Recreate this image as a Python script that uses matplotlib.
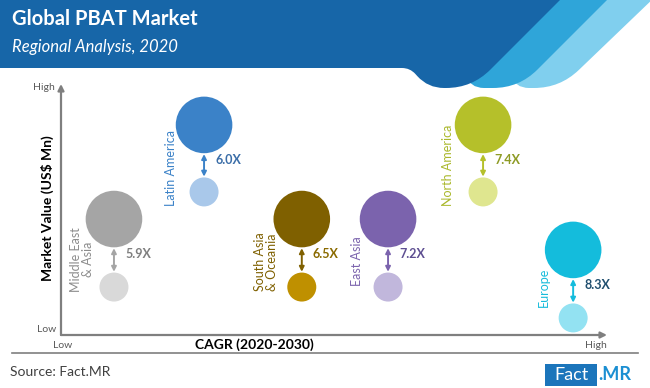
import numpy as np
import matplotlib
matplotlib.use("Agg")
import matplotlib.pyplot as plt
from matplotlib.path import Path
from matplotlib.patches import PathPatch, Rectangle

plt.rcParams['font.family'] = ['Lato', 'DejaVu Sans']

# ---------------- data ----------------
regions = ["Middle East\n& Asia", "Latin America", "South Asia\n& Oceania",
           "East Asia", "North America", "Europe"]
cagr_score = [9.7, 26.2, 44.1, 59.9, 77.3, 93.8]          # relative CAGR position (Low→High)
value_2030 = [46.2, 83.7, 46.2, 46.2, 83.7, 33.9]         # relative market value, 2030 (big bubble)
value_2020 = [19.1, 57.0, 19.1, 19.1, 57.0, 6.8]          # relative market value, 2020 (small bubble)
multiplier = ["5.9X", "6.0X", "6.5X", "7.2X", "7.4X", "8.3X"]

# ---------------- styles ----------------
big_col = ["#a5a5a5", "#3b82c8", "#7f6000", "#7b63ad", "#b5c02a", "#14bcdc"]
small_col = ["#d9d9d9", "#a9c8ea", "#bf9000", "#c1b7dc", "#dfe68f", "#93e2f2"]
lab_col = ["#8c8c8c", "#3b82c8", "#7f6000", "#7b63ad", "#aab82b", "#17bcdb"]
mult_col = ["#7f7f7f", "#3b6ea8", "#8a6a00", "#5e4f92", "#8e9b25", "#1f4e6e"]
# label offsets (points) relative to the big bubble centre
lab_dx = [-23, -24, -26, -22, -25, -21]
lab_dy = [-29, -31, -31, -30, -29, -27]

W, H = 650, 388
fig = plt.figure(figsize=(6.5, 3.88), dpi=100)

# background / decoration axes in pixel coordinates
bg = fig.add_axes([0, 0, 1, 1])
bg.set_xlim(0, W)
bg.set_ylim(H, 0)
bg.axis('off')


def rounded_poly(verts, radii):
    pts, codes = [], []
    n = len(verts)
    for i in range(n):
        V = np.array(verts[i], float)
        P = np.array(verts[i - 1], float)
        N = np.array(verts[(i + 1) % n], float)
        r = radii[i]
        if r == 0:
            pts.append(V); codes.append(Path.LINETO)
        else:
            d1 = (P - V) / np.linalg.norm(P - V)
            d2 = (N - V) / np.linalg.norm(N - V)
            pts += [V + d1 * r, V, V + d2 * r]
            codes += [Path.LINETO, Path.CURVE3, Path.CURVE3]
    pts.append(pts[0]); codes.append(Path.CLOSEPOLY)
    codes[0] = Path.MOVETO
    return Path(pts, codes)


def add_shape(verts, radii, color, z):
    bg.add_patch(PathPatch(rounded_poly(verts, radii), fc=color, ec='none', zorder=z))

# light stripe
add_shape([(505, -5), (657, -5), (560, 88), (515, 88), (505, 60)],
          [0, 0, 26, 14, 0], "#80cfee", 1)
# mid stripe
add_shape([(460, -5), (612, -5), (519, 88), (470, 88), (460, 60)],
          [0, 0, 26, 14, 0], "#2fa5d9", 2)
# dark band with lobe
add_shape([(-5, -5), (565, -5), (472, 88), (428, 88), (410, 68), (-5, 68)],
          [0, 0, 26, 16, 8, 0], "#1766a8", 3)

bg.text(12, 19, "Global PBAT Market", color='white', fontsize=14.5,
        fontweight='bold', va='center', ha='left', zorder=5)
bg.text(12, 47, "Regional Analysis, 2020", color='white', fontsize=12,
        style='italic', va='center', ha='left', zorder=5)

# separator and footer
bg.plot([12, 638], [353, 353], color='#7f7f7f', lw=1.2)
bg.text(10, 372, "Source: Fact.MR", color='#404040', fontsize=10, va='center', ha='left')
bg.add_patch(Rectangle((545, 364), 52, 22, fc='#1b75bb', ec='none'))
bg.text(571, 375, "Fact", color='white', fontsize=13, va='center', ha='center')
bg.text(598, 375, ".MR", color='#1b8fd2', fontsize=13, fontweight='bold', va='center', ha='left')

# main plot axes
x0, x1, yb, yt = 61, 607, 335, 84
ax = fig.add_axes([x0 / W, (H - yb) / H, (x1 - x0) / W, (yb - yt) / H])
ax.set_xlim(0, 100)
ax.set_ylim(0, 100)
ax.axis('off')
ax.patch.set_alpha(0)

axis_col = '#7f7f7f'
ax.annotate('', xy=(0, 1), xytext=(0, 0), xycoords='axes fraction',
            arrowprops=dict(arrowstyle='-|>', color=axis_col, lw=1.6,
                            mutation_scale=9, shrinkA=0, shrinkB=0), annotation_clip=False)
ax.annotate('', xy=(1, 0), xytext=(0, 0), xycoords='axes fraction',
            arrowprops=dict(arrowstyle='-|>', color=axis_col, lw=1.6,
                            mutation_scale=9, shrinkA=0, shrinkB=0), annotation_clip=False)

big_s = (2 * 28.3 * 0.72) ** 2
small_s = (2 * 14.5 * 0.72) ** 2
ax.scatter(cagr_score, value_2030, s=big_s, c=big_col, edgecolors='none', zorder=3)
ax.scatter(cagr_score, value_2020, s=small_s, c=small_col, edgecolors='none', zorder=3)

for i in range(len(regions)):
    x = cagr_score[i]
    ax.annotate('', xy=(x, value_2020[i]), xytext=(x, value_2030[i]),
                arrowprops=dict(arrowstyle='<|-|>', color=big_col[i],
                                lw=1.4, mutation_scale=7, shrinkA=21, shrinkB=11))
    ymid = (value_2020[i] + value_2030[i]) / 2
    ax.annotate(multiplier[i], xy=(x, ymid), xytext=(8, -1), textcoords='offset points',
                ha='left', va='center', fontsize=9, fontweight='bold', color=mult_col[i])
    ax.annotate(regions[i], xy=(x, value_2030[i]), xytext=(lab_dx[i], lab_dy[i]),
                textcoords='offset points', rotation=90, ha='center', va='center',
                fontsize=9, color=lab_col[i], linespacing=1.0,
                multialignment='center')

# axis titles and end labels
bg.text(47, 208, "Market Value (US$ Mn)", rotation=90, fontsize=10, fontweight='bold',
        ha='center', va='center', color='black')
bg.text(254, 345, "CAGR (2020-2030)", fontsize=10, fontweight='bold',
        ha='center', va='center', color='black')
bg.text(55, 87, "High", fontsize=7.5, color='#595959', ha='right', va='center')
bg.text(56, 330, "Low", fontsize=7.5, color='#595959', ha='right', va='center')
bg.text(63, 345, "Low", fontsize=7.5, color='#595959', ha='center', va='center')
bg.text(596, 345, "High", fontsize=7.5, color='#595959', ha='center', va='center')

fig.savefig("out.png", dpi=100)
